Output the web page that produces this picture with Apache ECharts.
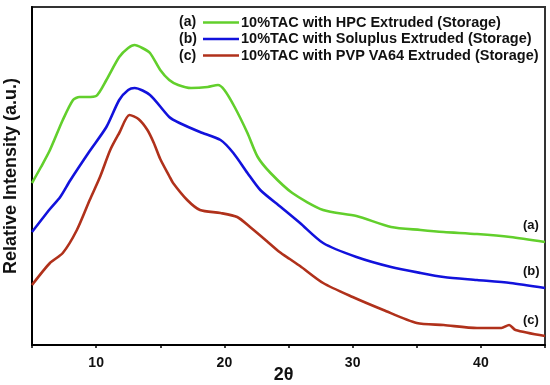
<!DOCTYPE html>
<html>
<head>
<meta charset="utf-8">
<script src="https://cdn.jsdelivr.net/npm/echarts@6/dist/echarts.min.js"></script>
<style>html,body{margin:0;padding:0;background:#fff}#c{width:550px;height:385px}</style>
</head>
<body>
<div id="c"></div>
<script>
// Data (intensity in arbitrary units)
var seriesNames = [
  "10%TAC with HPC Extruded (Storage)",
  "10%TAC with Soluplus Extruded (Storage)",
  "10%TAC with PVP VA64 Extruded (Storage)"
];
var seriesTags = ["(a)", "(b)", "(c)"];
var xTicks = [10, 20, 30, 40];

var xA = [5.0, 5.7, 6.4, 7.4, 8.2, 8.7, 9.3, 10.0, 10.8, 11.8, 12.5, 13.0, 13.6, 14.2, 15.0, 15.7, 16.4, 17.4, 18.7, 19.5, 20.0, 20.8, 21.8, 22.6, 23.6, 25.3, 27.7, 30.3, 33.0, 35.3, 37.1, 39.7, 42.3, 45.0];
var yA = [162, 178, 195, 225, 245, 248, 248, 249, 265, 288, 297, 300, 297, 292, 275, 265, 260, 257, 258, 260, 255, 238, 212, 188, 172, 152, 135, 129, 118, 115, 113, 111, 108, 103];

var xB = [5.0, 6.4, 7.2, 8.0, 9.5, 10.8, 11.8, 12.5, 13.0, 14.2, 15.7, 16.5, 18.1, 19.7, 20.7, 21.8, 22.8, 24.4, 25.9, 27.7, 30.3, 33.0, 35.3, 37.1, 39.7, 42.3, 45.0];
var yB = [113, 136, 148, 165, 194, 218, 245, 255, 257, 250, 228, 222, 213, 205, 192, 172, 155, 138, 122, 102, 88, 78, 72, 68, 65, 62, 57];

var xC = [5.0, 6.4, 7.4, 8.5, 9.5, 10.3, 11.1, 11.8, 12.6, 13.3, 14.0, 14.5, 15.0, 15.7, 16.0, 17.1, 18.1, 19.7, 21.0, 22.0, 23.3, 24.3, 25.1, 25.9, 27.7, 30.0, 32.4, 35.0, 37.1, 39.7, 41.6, 42.2, 42.7, 45.0];
var yC = [60, 82, 92, 115, 145, 168, 195, 212, 230, 226, 215, 202, 186, 169, 162, 145, 135, 132, 128, 118, 104, 93, 86, 79, 62, 48, 35, 22, 20, 17, 17, 20, 15, 9];

var colors = ["#62cf2c", "#1212dc", "#b0311b"];

function pairs(xs, ys) { return xs.map(function (x, i) { return [x, ys[i]]; }); }

var chart = echarts.init(document.getElementById('c'), null, {renderer: 'canvas'});
var FONT = '"Liberation Sans", Arial, sans-serif';
var dataSets = [pairs(xA, yA), pairs(xB, yB), pairs(xC, yC)];

var series = dataSets.map(function (d, i) {
  return {
    name: seriesNames[i],
    type: 'line',
    data: d,
    symbol: 'none',
    smooth: 0.25,
    lineStyle: {color: colors[i], width: 2.6},
    itemStyle: {color: colors[i]},
    z: 3 - i
  };
});

chart.setOption({
  animation: false,
  backgroundColor: '#fff',
  grid: {left: 32, right: 5, top: 7, bottom: 40, show: true, borderColor: '#333', borderWidth: 2,
         outerBoundsMode: 'none', containLabel: false},
  xAxis: {
    type: 'value', min: 5, max: 45, interval: 5,
    name: '2θ', nameLocation: 'middle', nameGap: 21, nameMoveOverlap: false,
    nameTextStyle: {fontFamily: FONT, fontWeight: 'bold', fontSize: 18, color: '#111', padding: [0, 0, 0, -10]},
    axisLine: {lineStyle: {color: '#000', width: 2}},
    axisTick: {show: true, inside: false, length: 3, lineStyle: {color: '#000', width: 1.5}},
    axisLabel: {
      fontFamily: FONT, fontWeight: 'bold', fontSize: 14, color: '#111', margin: 11,
      formatter: function (v) { return xTicks.indexOf(v) >= 0 ? String(v) : ''; }
    },
    splitLine: {show: false}
  },
  yAxis: {
    type: 'value', min: 0, max: 338,
    name: 'Relative Intensity (a.u.)', nameLocation: 'middle', nameGap: 12, nameMoveOverlap: false,
    nameTextStyle: {fontFamily: FONT, fontWeight: 'bold', fontSize: 18, color: '#111'},
    axisLine: {show: true, lineStyle: {color: '#000', width: 2}},
    axisTick: {show: false},
    axisLabel: {show: false},
    splitLine: {show: false}
  },
  legend: {
    orient: 'vertical', left: 198, top: 10,
    icon: 'rect',
    itemWidth: 36, itemHeight: 2.5, itemGap: 1.5,
    textStyle: {fontFamily: FONT, fontWeight: 'bold', fontSize: 14.5, color: '#111', padding: [0, 0, 0, -3]},
    data: seriesNames
  },
  graphic: [
    {type: 'text', left: 179, top: 15, style: {text: seriesTags[0], font: 'bold 14px ' + FONT, fill: '#111'}},
    {type: 'text', left: 179, top: 32, style: {text: seriesTags[1], font: 'bold 14px ' + FONT, fill: '#111'}},
    {type: 'text', left: 179, top: 49, style: {text: seriesTags[2], font: 'bold 14px ' + FONT, fill: '#111'}},
    {type: 'text', left: 523, top: 219, style: {text: seriesTags[0], font: 'bold 13px ' + FONT, fill: '#111'}},
    {type: 'text', left: 523, top: 265, style: {text: seriesTags[1], font: 'bold 13px ' + FONT, fill: '#111'}},
    {type: 'text', left: 523, top: 314, style: {text: seriesTags[2], font: 'bold 13px ' + FONT, fill: '#111'}}
  ],
  series: series
});
</script>
</body>
</html>
